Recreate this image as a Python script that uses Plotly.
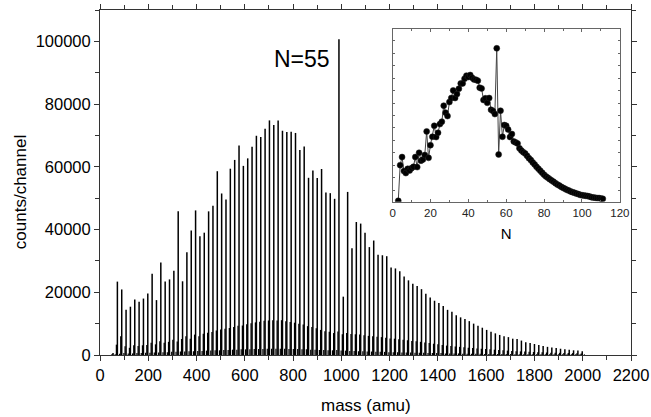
import plotly.graph_objects as go

# ---------------- data ----------------
unit_mass = 18  # amu per cluster unit
cluster_sizes = list(range(3, 112))  # N = 3 .. 111

main_counts = [
    600, 23400, 20900, 14400, 15400, 17700, 17000, 18000, 19600, 25900,
    17500, 29500, 23400, 24100, 26900, 45800, 23500, 32800, 39700, 46100,
    37900, 39000, 45800, 47600, 58600, 51500, 49600, 59400, 62200, 66800,
    60300, 62700, 66400, 69900, 69500, 72100, 74800, 73300, 74800, 71500,
    71100, 71200, 70800, 65400, 66500, 56500, 58800, 56400, 59300, 51800,
    51600, 49800, 100700, 18600, 52000, 34000, 42400, 41900, 39000, 34400,
    36500, 32000, 31800, 31500, 27900, 27600, 26700, 25000, 23800, 22700,
    22000, 21000, 19500, 18300, 17300, 16600, 15600, 14400, 13800, 12700,
    12000, 11500, 10800, 10000, 9300, 8700, 8000, 7400, 6900, 6400,
    6000, 5700, 5200, 5100, 4600, 4100, 3800, 3500, 3200, 2900,
    2600, 2400, 2200, 2000, 1800, 1700, 1500, 1400, 1200,
]

side_counts = [
    300, 3300, 6000, 2800, 2300, 3100, 2900, 3100, 3200, 3900,
    3400, 4400, 3900, 4200, 4900, 4300, 5100, 6000, 5200, 6500,
    6000, 6800, 7100, 7300, 7800, 8100, 8400, 8600, 8900, 9300,
    9400, 9800, 10100, 10400, 10600, 10900, 11000, 11100, 11000, 11100,
    10800, 10500, 10300, 10000, 9700, 9200, 8900, 8500, 8000, 7600,
    7400, 7000, 7500, 6600, 7000, 6700, 6600, 6500, 6300, 6100,
    6000, 5800, 5700, 5500, 5300, 5200, 5000, 4900, 4700, 4500,
    4400, 4200, 4000, 3800, 3600, 3400, 3200, 3000, 2900, 2700,
    2600, 2500, 2300, 2200, 2100, 2000, 1900, 1800, 1700, 1600,
    1500, 1400, 1300, 1200, 1150, 1100, 1000, 950, 900, 850,
    800, 750, 700, 700, 650, 600, 600, 550, 500,
]

minor_counts = [
    200, 400, 600, 500, 500, 600, 600, 700, 700, 800,
    800, 900, 900, 1000, 1000, 1100, 1100, 1200, 1200, 1300,
    1300, 1400, 1400, 1500, 1500, 1600, 1600, 1700, 1700, 1800,
    1800, 1800, 1900, 1900, 1900, 2000, 2000, 2000, 2000, 2000,
    1900, 1900, 1900, 1800, 1800, 1700, 1700, 1600, 1600, 1500,
    1500, 1600, 1400, 1400, 1300, 1300, 1200, 1200, 1100, 1100,
    1000, 1000, 1000, 900, 900, 900, 800, 800, 800, 700,
    700, 700, 600, 600, 600, 600, 500, 500, 500, 500,
    400, 400, 400, 400, 400, 300, 300, 300, 300, 300,
    300, 300, 200, 200, 200, 200, 200, 200, 200, 200,
    200, 200, 200, 200, 200, 200, 200, 200, 200,
]

# inset: relative intensity vs cluster size N
inset_intensity = [
    0.0, 23.4, 28.7, 19.5, 18.2, 21.0, 19.9, 21.4, 22.3, 28.7,
    22.1, 31.5, 26.3, 27.1, 30.0, 45.5, 28.2, 36.5, 42.0, 49.2,
    41.8, 44.6, 50.3, 51.9, 62.4, 57.8, 55.6, 64.8, 67.4, 72.4,
    67.4, 70.0, 73.5, 77.0, 77.0, 80.1, 82.1, 81.2, 82.5, 80.7,
    79.6, 79.4, 78.8, 74.2, 73.7, 66.1, 67.2, 64.3, 67.4, 59.7,
    58.9, 56.9, 100.0, 30.4, 59.1, 42.0, 49.7, 49.2, 46.8, 41.8,
    43.8, 38.9, 38.3, 37.6, 34.4, 33.0, 31.9, 31.1, 29.5, 28.0,
    26.7, 25.2, 23.9, 22.3, 21.0, 19.7, 18.4, 17.1, 16.0, 15.1,
    14.2, 13.3, 12.5, 11.6, 10.7, 10.1, 9.2, 8.5, 7.9, 7.2,
    6.8, 6.1, 5.7, 5.3, 4.8, 4.4, 3.9, 3.7, 3.5, 3.3,
    3.1, 2.8, 2.4, 2.2, 2.0, 1.8, 1.8, 1.5, 1.3,
]

assert len(main_counts) == len(cluster_sizes)
assert len(side_counts) == len(cluster_sizes)
assert len(minor_counts) == len(cluster_sizes)
assert len(inset_intensity) == len(cluster_sizes)

masses = [unit_mass * n for n in cluster_sizes]
side_offset = -4   # satellite peak position relative to main peak (amu)
minor_offset = 9   # small peak between clusters (amu)


def sticks(xs, ys, dx=0):
    sx, sy = [], []
    for x, y in zip(xs, ys):
        sx += [x + dx, x + dx, None]
        sy += [0, y, None]
    return sx, sy


FONT = "Liberation Sans, Arial, sans-serif"
AX = "#333333"

fig = go.Figure()

for ys, dx, w in [(minor_counts, minor_offset, 1.2),
                  (side_counts, side_offset, 1.3),
                  (main_counts, 0, 1.5)]:
    sx, sy = sticks(masses, ys, dx)
    fig.add_trace(go.Scatter(x=sx, y=sy, mode="lines",
                             line=dict(color="black", width=w),
                             hoverinfo="skip", showlegend=False))

fig.add_trace(go.Scatter(
    x=cluster_sizes, y=inset_intensity, mode="lines+markers",
    line=dict(color="#444444", width=1),
    marker=dict(color="black", size=6, line=dict(color="#222222", width=0.5)),
    xaxis="x2", yaxis="y2", showlegend=False, hoverinfo="skip"))

fig.add_annotation(x=962, y=94500, xref="x", yref="y", text="N=55",
                   showarrow=False, xanchor="right", yanchor="middle",
                   font=dict(family=FONT, size=23, color="black"))

# axis titles as annotations for exact placement
fig.add_annotation(x=0.5, y=0, xref="paper", yref="paper", yshift=-50,
                   text="mass (amu)", showarrow=False, xanchor="center",
                   yanchor="middle", font=dict(family=FONT, size=17, color="black"))
fig.add_annotation(x=0, y=0.472, xref="paper", yref="paper", xshift=-80,
                   text="counts/channel", showarrow=False, textangle=-90,
                   xanchor="center", yanchor="middle",
                   font=dict(family=FONT, size=17, color="black"))

fig.update_layout(
    width=651, height=417,
    margin=dict(l=100, r=20, t=10, b=62, autoexpand=False),
    paper_bgcolor="white", plot_bgcolor="white",
    font=dict(family=FONT, color="black", size=16),
    xaxis=dict(
        range=[0, 2200], tick0=0, dtick=200, showgrid=False, zeroline=False,
        showline=True, linecolor=AX, linewidth=1, mirror="allticks",
        ticks="outside", ticklen=5, tickcolor=AX, tickwidth=1,
        minor=dict(dtick=100, ticks="outside", ticklen=4, tickcolor=AX),
        tickfont=dict(size=16.5), automargin=False,
    ),
    yaxis=dict(
        range=[0, 110000], tick0=0, dtick=20000, showgrid=False, zeroline=False,
        showline=True, linecolor=AX, linewidth=1, mirror="allticks",
        ticks="outside", ticklen=5, tickcolor=AX, tickwidth=1,
        minor=dict(dtick=10000, ticks="outside", ticklen=4, tickcolor=AX),
        tickfont=dict(size=16.5), tickformat="d", automargin=False,
    ),
    xaxis2=dict(
        domain=[0.551, 0.979], anchor="y2", range=[0, 120], tick0=0, dtick=20,
        showgrid=False, zeroline=False, showline=True, linecolor="#666666",
        linewidth=1, mirror="allticks", ticks="inside", ticklen=3,
        tickcolor="#666666",
        minor=dict(dtick=10, ticks="inside", ticklen=2, tickcolor="#666666"),
        tickfont=dict(size=11.5, color="#222222"), automargin=False,
        title=dict(text="N", font=dict(size=15), standoff=10),
    ),
    yaxis2=dict(
        domain=[0.444, 0.945], anchor="x2", range=[-0.66, 112.7],
        tick0=7.0, dtick=8.16, showticklabels=False, showgrid=False,
        zeroline=False, showline=True, linecolor="#666666", linewidth=1,
        mirror="allticks", ticks="inside", ticklen=2, tickcolor="#666666",
        automargin=False,
    ),
)

fig.write_html("out.html",
               config={"displayModeBar": False},
               post_script="document.body.style.margin='0px';"
                           "document.body.style.padding='0px';")
